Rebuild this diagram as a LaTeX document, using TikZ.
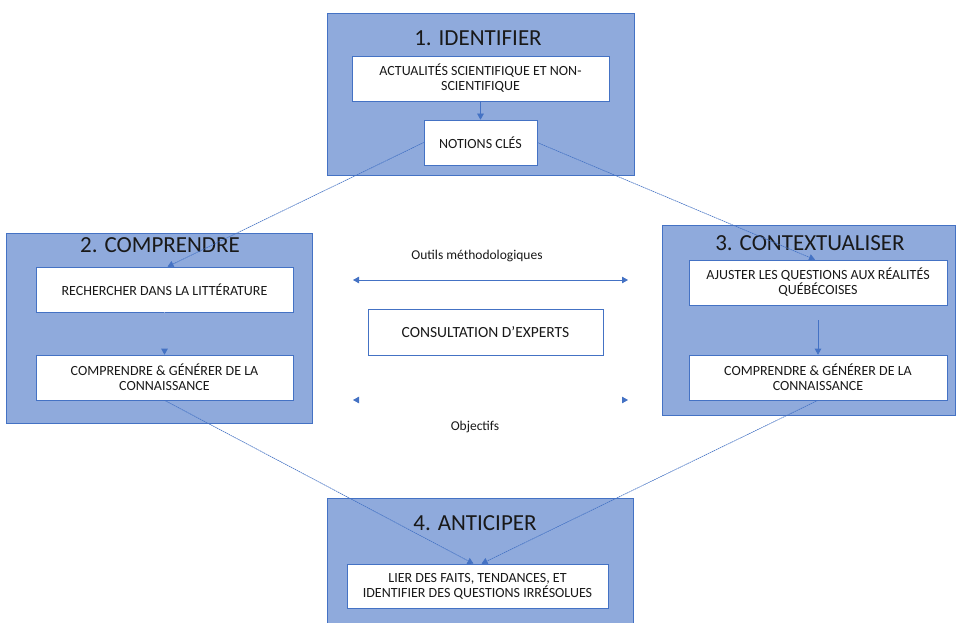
\documentclass[tikz,border=0pt]{standalone}
\usepackage{fontspec}
\setmainfont{Carlito}
\usetikzlibrary{arrows.meta}
\definecolor{boxfill}{RGB}{143,170,220}
\definecolor{boxline}{RGB}{68,114,196}
\definecolor{txt}{RGB}{25,25,25}
\tikzset{
  phase/.style={draw=boxline, fill=boxfill, line width=0.8pt, inner sep=0pt},
  innerbox/.style={draw=boxline, fill=white, line width=0.6pt, align=center,
    font=\fontsize{14}{15}\selectfont, text=txt, inner sep=0pt},
  titletext/.style={font=\fontsize{23}{26}\selectfont, text=txt},
  midtext/.style={font=\fontsize{13.5}{16}\selectfont, text=txt},
  link/.style={draw=boxline, line width=0.6pt, -{Triangle[length=6pt,width=6.5pt]}},
  dlink/.style={link, dash pattern=on 1.6pt off 0.6pt},
}
\begin{document}
\begin{tikzpicture}[x=1pt,y=-1pt]
\clip (0,0) rectangle (958,623);
\fill[white] (0,0) rectangle (958,623);

% phase boxes
\node[phase, minimum width=307, minimum height=162] (p1) at (480.5,94) {};
\node[phase, minimum width=306, minimum height=190] (p2) at (159,328) {};
\node[phase, minimum width=293, minimum height=190] (p3) at (808.5,320) {};
\node[phase, minimum width=306, minimum height=144] (p4) at (480,570) {};

% titles
\node[titletext] (t1) at (478,38) {1. IDENTIFIER};
\node[titletext] (t2) at (160,245) {2. COMPRENDRE};
\node[titletext] (t3) at (810,243) {3. CONTEXTUALISER};
\node[titletext] (t4) at (475,523) {4. ANTICIPER};

% inner boxes
\node[innerbox, minimum width=257, minimum height=45] (a1) at (480.5,78.5)
  {ACTUALITÉS SCIENTIFIQUE ET NON-\\SCIENTIFIQUE};
\node[innerbox, minimum width=113, minimum height=45] (n1) at (480.5,142.5) {NOTIONS CLÉS};
\node[innerbox, minimum width=257, minimum height=45] (r2) at (164.5,289.5)
  {RECHERCHER DANS LA LITTÉRATURE};
\node[innerbox, minimum width=257, minimum height=45] (c2) at (164.5,377.5)
  {COMPRENDRE \& GÉNÉRER DE LA\\CONNAISSANCE};
\node[innerbox, minimum width=258, minimum height=45] (j3) at (818,282.5)
  {AJUSTER LES QUESTIONS AUX RÉALITÉS\\QUÉBÉCOISES};
\node[innerbox, minimum width=258, minimum height=45] (c3) at (818,377.5)
  {COMPRENDRE \& GÉNÉRER DE LA\\CONNAISSANCE};
\node[innerbox, minimum width=261, minimum height=44] (l4) at (477.5,586)
  {LIER DES FAITS, TENDANCES, ET\\IDENTIFIER DES QUESTIONS IRRÉSOLUES};

% middle
\node[midtext] (outils) at (477,256) {Outils méthodologiques};
\coordinate (ul) at (353,280);
\coordinate (ur) at (628,280);
\draw[draw=boxline, line width=0.8pt, {Triangle[length=6pt,width=6.5pt]}-{Triangle[length=6pt,width=6.5pt]}] (ul) -- (ur);
\node[innerbox, minimum width=235, minimum height=46, font=\fontsize{15.5}{18}\selectfont] (exp) at (485.5,332) {CONSULTATION D’EXPERTS};
\coordinate (ol) at (353,400);
\coordinate (or) at (628,400);
\draw[white, line width=0.8pt, {Triangle[length=6pt,width=6.5pt,color=boxline]}-{Triangle[length=6pt,width=6.5pt,color=boxline]}] (ol) -- (or);
\node[midtext] (obj) at (475,427) {Objectifs};

% vertical arrows inside phases
\draw[link] (a1.south) -- (n1.north);
\draw[draw=boxfill, line width=0.6pt, -{Triangle[length=6pt,width=6.5pt,color=boxline]}] (r2.south) -- (c2.north);
\draw[link] ([yshift=-15pt]j3.south) -- (c3.north);

% diagonal connectors
\draw[dlink] (n1.west) -- ([xshift=3pt]r2.north);
\draw[dlink] (n1.east) -- ([xshift=-3pt]j3.north);
\draw[dlink] (c2.south) -- ([xshift=-4pt]l4.north);
\draw[dlink] (c3.south) -- ([xshift=4pt]l4.north);
\end{tikzpicture}
\end{document}
